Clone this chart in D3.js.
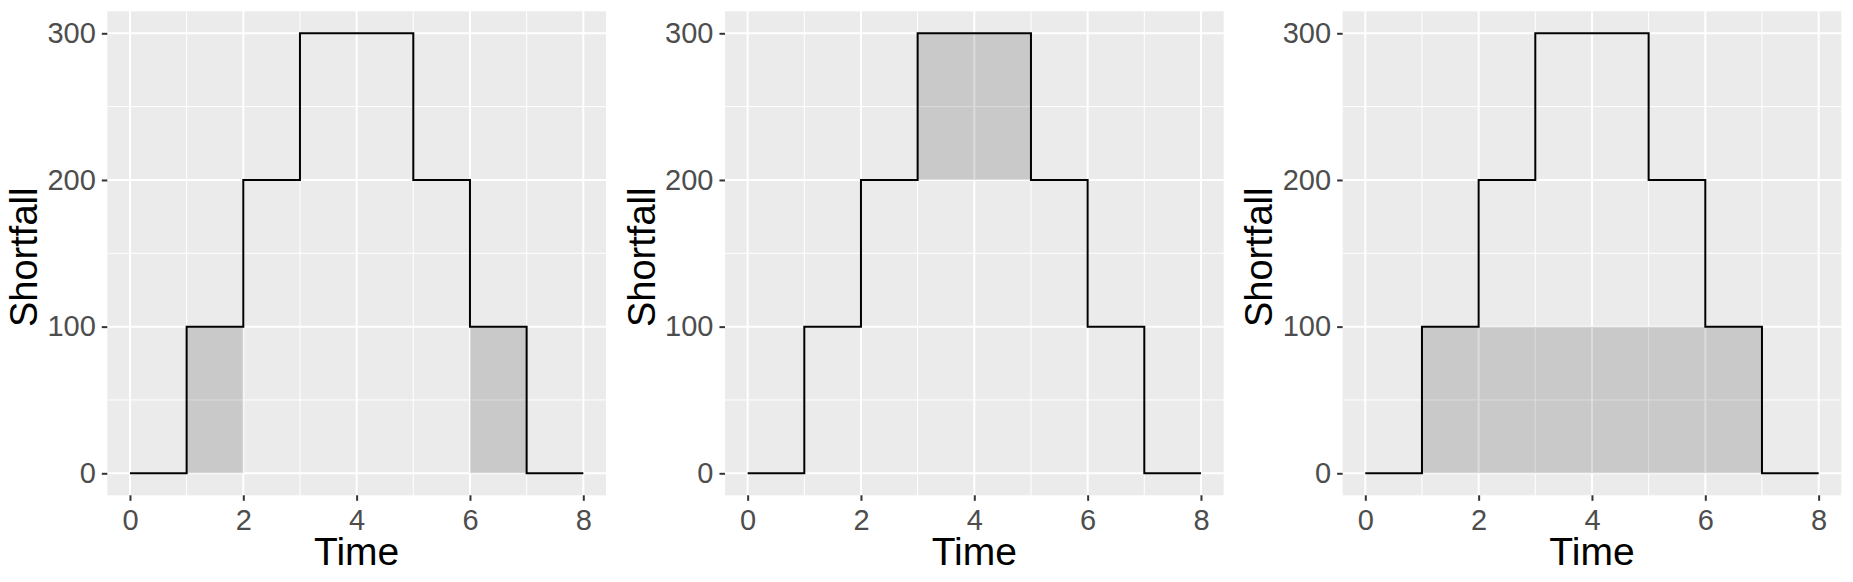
<!DOCTYPE html>
<html>
<head>
<meta charset="utf-8">
<script src="https://cdn.jsdelivr.net/npm/d3@7"></script>
<style>
  body { margin: 0; background: #fff; }
  text { font-family: "Liberation Sans", Arial, sans-serif; }
</style>
</head>
<body>
<div id="chart"></div>
<script>
// step profile
const times = [0, 1, 2, 3, 4, 5, 6, 7, 8];
const shortfall = [0, 100, 200, 300, 300, 200, 100, 0, 0];

// shaded blocks for each panel
const shadeA = [{ x0: 1, x1: 2, y0: 0, y1: 100 }, { x0: 6, x1: 7, y0: 0, y1: 100 }];
const shadeB = [{ x0: 3, x1: 5, y0: 200, y1: 300 }];
const shadeC = [{ x0: 1, x1: 7, y0: 0, y1: 100 }];
const panels = [shadeA, shadeB, shadeC];

const xTicks = [0, 2, 4, 6, 8];
const xMinor = [1, 3, 5, 7];
const yTicks = [0, 100, 200, 300];
const yMinor = [50, 150, 250];

const width = 1853, height = 582;
const plotW = width / 3;
const margin = { left: 107.3, right: 11.7, top: 11.3, bottom: 86.7 };
const pw = plotW - margin.left - margin.right;
const ph = height - margin.top - margin.bottom;

const svg = d3.select('#chart').append('svg')
    .attr('width', width)
    .attr('height', height);

const x = d3.scaleLinear().domain([-0.4, 8.4]).range([0, pw]);
const y = d3.scaleLinear().domain([-15, 315]).range([ph, 0]);

const points = times.map((t, i) => [t, shortfall[i]]);
const line = d3.line()
    .x(d => x(d[0]))
    .y(d => y(d[1]))
    .curve(d3.curveStepAfter);

panels.forEach((shades, p) => {
    const g = svg.append('g')
        .attr('transform', `translate(${p * plotW + margin.left}, ${margin.top})`);

    g.append('rect')
        .attr('width', pw)
        .attr('height', ph)
        .attr('fill', '#EBEBEB');

    // minor grid
    g.selectAll('.ymin').data(yMinor).enter().append('line')
        .attr('x1', 0).attr('x2', pw)
        .attr('y1', d => y(d)).attr('y2', d => y(d))
        .attr('stroke', '#fff').attr('stroke-width', 1);
    g.selectAll('.xmin').data(xMinor).enter().append('line')
        .attr('y1', 0).attr('y2', ph)
        .attr('x1', d => x(d)).attr('x2', d => x(d))
        .attr('stroke', '#fff').attr('stroke-width', 1);

    // major grid
    g.selectAll('.ymaj').data(yTicks).enter().append('line')
        .attr('x1', 0).attr('x2', pw)
        .attr('y1', d => y(d)).attr('y2', d => y(d))
        .attr('stroke', '#fff').attr('stroke-width', 2);
    g.selectAll('.xmaj').data(xTicks).enter().append('line')
        .attr('y1', 0).attr('y2', ph)
        .attr('x1', d => x(d)).attr('x2', d => x(d))
        .attr('stroke', '#fff').attr('stroke-width', 2);

    g.selectAll('.shade').data(shades).enter().append('rect')
        .attr('x', d => x(d.x0))
        .attr('y', d => y(d.y1))
        .attr('width', d => x(d.x1) - x(d.x0))
        .attr('height', d => y(d.y0) - y(d.y1))
        .attr('fill', '#000')
        .attr('fill-opacity', 0.14);

    g.append('path')
        .datum(points)
        .attr('d', line)
        .attr('fill', 'none')
        .attr('stroke', '#000')
        .attr('stroke-width', 2);

    // axes
    const xAxis = g.append('g')
        .attr('transform', `translate(0, ${ph})`)
        .call(d3.axisBottom(x).tickValues(xTicks).tickSize(5.5).tickPadding(9));
    const yAxis = g.append('g')
        .call(d3.axisLeft(y).tickValues(yTicks).tickSize(5.5).tickPadding(6));

    [xAxis, yAxis].forEach(a => {
        a.select('.domain').remove();
        a.selectAll('.tick line').attr('stroke', '#333').attr('stroke-width', 2);
        a.selectAll('.tick text')
            .attr('fill', '#4D4D4D')
            .style('font-size', '29px');
    });

    g.append('text')
        .attr('x', pw / 2)
        .attr('y', ph + 70)
        .attr('text-anchor', 'middle')
        .style('font-size', '39px')
        .text('Time');

    g.append('text')
        .attr('transform', `translate(${37 - margin.left}, ${ph / 2 + 4}) rotate(-90)`)
        .attr('text-anchor', 'middle')
        .style('font-size', '38px')
        .text('Shortfall');
});
</script>
</body>
</html>
